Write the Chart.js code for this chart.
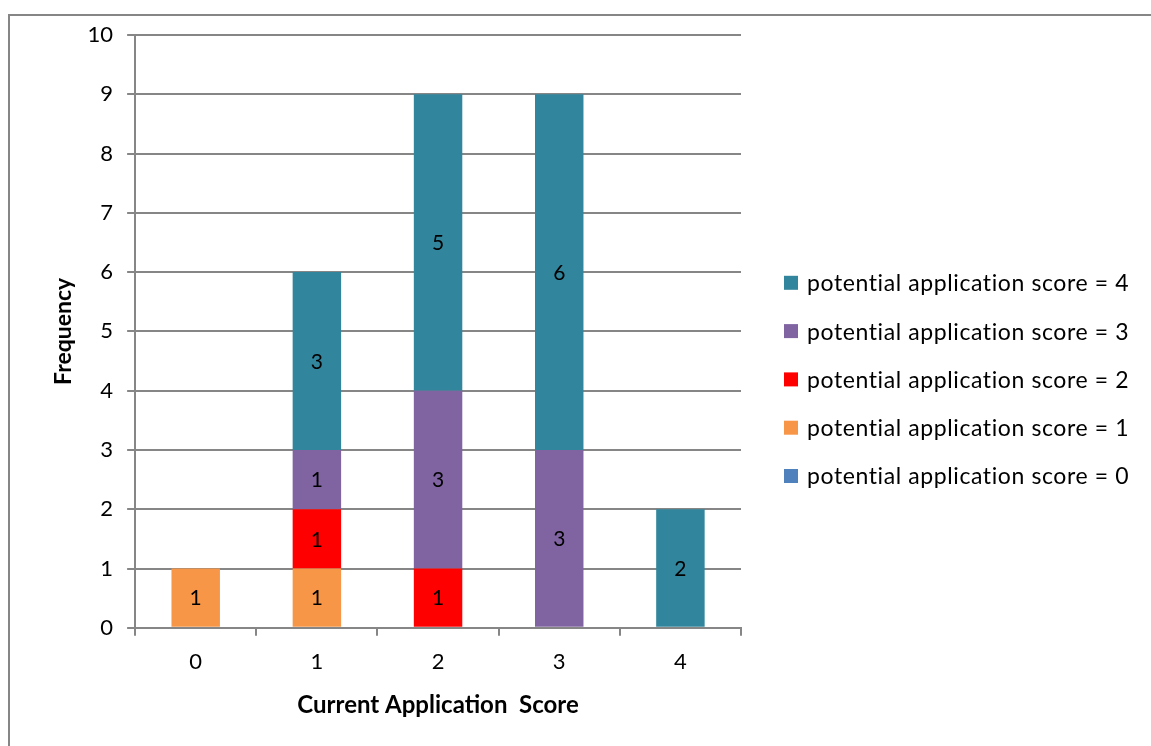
<!DOCTYPE html>
<html>
<head>
<meta charset="utf-8">
<script src="https://cdn.jsdelivr.net/npm/chart.js@4"></script>
<style>
  html, body { margin: 0; padding: 0; background: #fff; }
  #wrap { width: 1151px; height: 746px; position: relative; }
</style>
</head>
<body>
<div id="wrap"><canvas id="grafico"></canvas></div>
<script>
const puntajes = ['0', '1', '2', '3', '4'];
const etiquetas = [
    'potential application score = 0',
    'potential application score = 1',
    'potential application score = 2',
    'potential application score = 3',
    'potential application score = 4'
];
const score0 = [0, 0, 0, 0, 0];
const score1 = [1, 1, 0, 0, 0];
const score2 = [0, 1, 1, 0, 0];
const score3 = [0, 1, 3, 3, 0];
const score4 = [0, 3, 5, 6, 2];
const yTicks = [0, 1, 2, 3, 4, 5, 6, 7, 8, 9, 10];

const colores = ['#4F81BD', '#F79646', '#FF0000', '#8064A2', '#31859C'];
const series = [score0, score1, score2, score3, score4];
const fuente = 'Lato, "Open Sans", sans-serif';

const datasets = series.map((valores, i) => ({
    label: etiquetas[i],
    data: valores,
    backgroundColor: colores[i],
    borderWidth: 0,
    barPercentage: 0.4,
    categoryPercentage: 1
}));

// Números dentro de cada segmento
const etiquetasBarras = {
    id: 'etiquetasBarras',
    afterDatasetsDraw(chart) {
        const ctx = chart.ctx;
        ctx.save();
        ctx.font = '21px ' + fuente;
        ctx.fillStyle = '#000';
        ctx.textAlign = 'center';
        ctx.textBaseline = 'middle';
        chart.data.datasets.forEach((ds, i) => {
            chart.getDatasetMeta(i).data.forEach((bar, j) => {
                const v = ds.data[j];
                if (!v) return;
                ctx.fillText(String(v), bar.x, (bar.y + bar.base) / 2 + 1);
            });
        });
        ctx.restore();
    }
};

// Leyenda a la derecha, orden invertido (4 arriba)
const leyenda = {
    id: 'leyenda',
    afterDraw(chart) {
        const ctx = chart.ctx;
        const area = chart.chartArea;
        const x0 = area.right + 43;
        const yMedio = (area.top + area.bottom) / 2 + 48;
        const paso = 48.3;
        const n = chart.data.datasets.length;
        ctx.save();
        ctx.font = '23px ' + fuente;
        if ('letterSpacing' in ctx) ctx.letterSpacing = '0.6px';
        ctx.textBaseline = 'middle';
        for (let k = 0; k < n; k++) {
            const i = n - 1 - k;
            const y = yMedio + (k - (n - 1) / 2) * paso;
            ctx.fillStyle = colores[i];
            ctx.fillRect(x0, y - 7, 14, 14);
            ctx.fillStyle = '#000';
            ctx.fillText(chart.data.datasets[i].label, x0 + 23, y + 1);
        }
        ctx.restore();
    }
};

// Marco gris alrededor del gráfico
const marco = {
    id: 'marco',
    beforeDraw(chart) {
        const ctx = chart.ctx;
        ctx.save();
        ctx.fillStyle = '#fff';
        ctx.fillRect(0, 0, chart.width, chart.height);
        ctx.strokeStyle = '#868686';
        ctx.lineWidth = 2;
        ctx.strokeRect(9, 15, 1300, 900);
        ctx.restore();
    }
};

new Chart(document.getElementById('grafico'), {
    type: 'bar',
    data: { labels: puntajes, datasets: datasets },
    plugins: [marco, etiquetasBarras, leyenda],
    options: {
        responsive: true,
        maintainAspectRatio: false,
        animation: false,
        layout: { padding: { top: 35, bottom: 22, left: 50, right: 410 } },
        plugins: {
            tooltip: { enabled: false },
            legend: { display: false }
        },
        scales: {
            x: {
                stacked: true,
                grid: {
                    drawOnChartArea: false,
                    drawTicks: true,
                    offset: true,
                    tickLength: 8,
                    color: '#868686',
                    lineWidth: 2
                },
                border: { color: '#868686', width: 2 },
                ticks: { font: { family: fuente, size: 22 }, color: '#000', padding: 13 },
                title: {
                    display: true,
                    text: 'Current Application  Score',
                    font: { family: fuente, size: 24, weight: 'bold' },
                    color: '#000',
                    padding: { top: 3 }
                }
            },
            y: {
                stacked: true,
                min: 0,
                max: 10,
                afterBuildTicks: (axis) => { axis.ticks = yTicks.map(v => ({ value: v })); },
                grid: { color: '#868686', lineWidth: 2, tickLength: 8 },
                border: { color: '#868686', width: 2 },
                ticks: { font: { family: fuente, size: 22 }, color: '#000', padding: 14 },
                title: {
                    display: true,
                    text: 'Frequency',
                    font: { family: fuente, size: 23, weight: 'bold' },
                    color: '#000',
                    padding: { top: 0, bottom: -4 }
                }
            }
        }
    }
});
</script>
</body>
</html>
